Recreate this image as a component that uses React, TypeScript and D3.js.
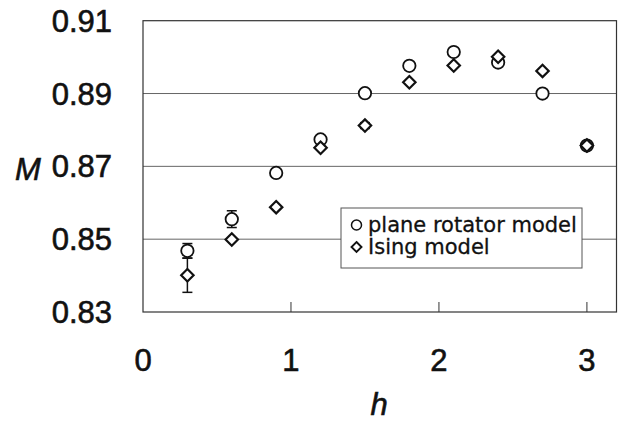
import * as d3 from 'd3'

const W = 623
const H = 421

// h values shared by both series
const H_VALUES = [0.3, 0.6, 0.9, 1.2, 1.5, 1.8, 2.1, 2.4, 2.7, 3.0]

// plane rotator model (circles)
const ROTATOR_M = [0.8468, 0.8555, 0.8682, 0.8774, 0.8901, 0.8976, 0.9014, 0.8985, 0.8900, 0.8757]
const ROTATOR_ERR = [0.002, 0.0023, 0, 0, 0, 0, 0, 0, 0, 0]

// Ising model (diamonds)
const ISING_M = [0.8401, 0.8499, 0.8588, 0.8751, 0.8812, 0.8931, 0.8977, 0.9001, 0.8962, 0.8757]
const ISING_ERR = [0.0047, 0, 0, 0, 0.0008, 0, 0, 0, 0, 0]

const Y_TICKS = [0.83, 0.85, 0.87, 0.89, 0.91]
const X_TICKS = [0, 1, 2, 3]

const LEGEND = ['plane rotator model', 'Ising model']

const FONT = '"Liberation Sans", Arial, sans-serif'

function Diamond({ x, y, r, sw }: { x: number; y: number; r: number; sw: number }) {
  return (
    <path
      d={`M${x},${y - r}L${x + r},${y}L${x},${y + r}L${x - r},${y}Z`}
      fill="white"
      stroke="#111"
      strokeWidth={sw}
    />
  )
}

function ErrorBar({ x, y0, y1 }: { x: number; y0: number; y1: number }) {
  return (
    <g stroke="#111" strokeWidth={1.5}>
      <line x1={x} x2={x} y1={y0} y2={y1} />
      <line x1={x - 5} x2={x + 5} y1={y0} y2={y0} />
      <line x1={x - 5} x2={x + 5} y1={y1} y2={y1} />
    </g>
  )
}

export default function App() {
  const x = d3.scaleLinear().domain([0, 3.2]).range([143, 616.5])
  const y = d3.scaleLinear().domain([0.83, 0.91]).range([312, 20.7])

  const left = x(0)
  const right = x(3.2)
  const top = y(0.91)
  const bottom = y(0.83)

  const legendX = 341
  const legendY = 208
  const legendW = 241
  const legendH = 60

  // heavier glyphs, like the scanned figure
  const labelStyle = { fontFamily: FONT, fontSize: 31, fill: '#111', stroke: '#111', strokeWidth: 0.6 }

  return (
    <div style={{ position: 'absolute', left: 0, top: 0 }}>
      <svg width={W} height={H} style={{ display: 'block', background: 'white' }}>
        {/* grid lines */}
        {Y_TICKS.slice(1, -1).map(t => (
          <line key={t} x1={left} x2={right} y1={y(t)} y2={y(t)} stroke="#666" strokeWidth={1} />
        ))}

        {/* bottom axis ticks, inward */}
        {X_TICKS.slice(1).map(t => (
          <line key={t} x1={x(t)} x2={x(t)} y1={bottom} y2={bottom - 10} stroke="#333" strokeWidth={1} />
        ))}

        {/* frame */}
        <rect x={left} y={top} width={right - left} height={bottom - top} fill="none" stroke="#333" strokeWidth={1.2} />

        {/* error bars */}
        {H_VALUES.map((h, i) =>
          ROTATOR_ERR[i] > 0 ? (
            <ErrorBar key={`re${i}`} x={x(h)} y0={y(ROTATOR_M[i] + ROTATOR_ERR[i])} y1={y(ROTATOR_M[i] - ROTATOR_ERR[i])} />
          ) : null
        )}
        {H_VALUES.map((h, i) =>
          ISING_ERR[i] > 0 ? (
            <ErrorBar key={`ie${i}`} x={x(h)} y0={y(ISING_M[i] + ISING_ERR[i])} y1={y(ISING_M[i] - ISING_ERR[i])} />
          ) : null
        )}

        {/* circles */}
        {H_VALUES.map((h, i) => (
          <circle key={`c${i}`} cx={x(h)} cy={y(ROTATOR_M[i])} r={6.2} fill="white" stroke="#111" strokeWidth={1.8} />
        ))}

        {/* diamonds */}
        {H_VALUES.map((h, i) => (
          <Diamond key={`d${i}`} x={x(h)} y={y(ISING_M[i])} r={6.2} sw={2.2} />
        ))}

        {/* legend */}
        <rect x={legendX} y={legendY} width={legendW} height={legendH} fill="white" stroke="#555" strokeWidth={1} />
        <circle cx={legendX + 15.5} cy={legendY + 17} r={5} fill="white" stroke="#111" strokeWidth={1.5} />
        <Diamond x={legendX + 15.5} y={legendY + 39} r={5} sw={1.9} />
        {LEGEND.map((label, i) => (
          <text
            key={label}
            x={legendX + 27}
            y={legendY + 24 + i * 22}
            fontFamily='"DejaVu Sans", sans-serif'
            fontSize={21}
            fill="#111"
            stroke="#111"
            strokeWidth={0.3}
          >
            {label}
          </text>
        ))}

        {/* y tick labels */}
        {Y_TICKS.map(t => (
          <text key={t} x={112} y={y(t) + 11} textAnchor="end" {...labelStyle}>
            {t.toFixed(2)}
          </text>
        ))}
        <text x={15} y={180} fontStyle="italic" {...labelStyle}>M</text>

        {/* x tick labels */}
        {X_TICKS.map(t => (
          <text key={t} x={x(t)} y={371} textAnchor="middle" {...labelStyle}>
            {t}
          </text>
        ))}
        <text x={379} y={415} textAnchor="middle" fontStyle="italic" {...labelStyle}>h</text>
      </svg>
    </div>
  )
}
